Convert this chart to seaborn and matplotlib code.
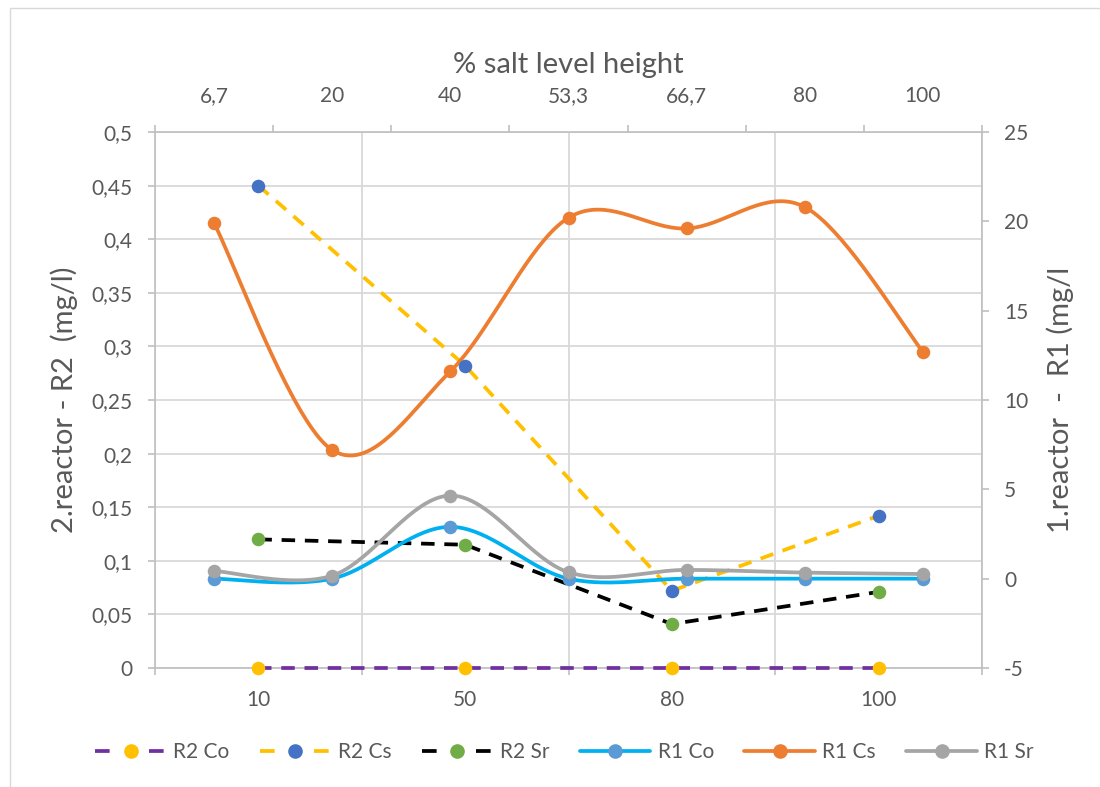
import numpy as np
import matplotlib
matplotlib.use("Agg")
import matplotlib.pyplot as plt
import seaborn as sns
from matplotlib.lines import Line2D
from matplotlib.patches import Rectangle
from matplotlib.ticker import FixedLocator, FixedFormatter

# ---------------- data ----------------
r2_categories = ["10", "50", "80", "100"]
r2_co = [0.0, 0.0, 0.0, 0.0]
r2_cs = [0.45, 0.282, 0.072, 0.142]
r2_sr = [0.12, 0.115, 0.041, 0.071]

r1_categories = ["6,7", "20", "40", "53,3", "66,7", "80", "100"]
r1_co = [0.0, 0.0, 2.9, 0.0, 0.0, 0.0, 0.0]
r1_cs = [19.9, 7.2, 11.6, 20.2, 19.6, 20.8, 12.7]
r1_sr = [0.43, 0.17, 4.65, 0.36, 0.49, 0.34, 0.26]

left_ticks = [0, 0.05, 0.1, 0.15, 0.2, 0.25, 0.3, 0.35, 0.4, 0.45, 0.5]
right_ticks = [-5, 0, 5, 10, 15, 20, 25]

# ---------------- style ----------------
sns.set_theme(style="white")
plt.rcParams["font.family"] = ["Lato", "DejaVu Sans"]
TXT = "#595959"
AXC = "#bfbfbf"
GRID = "#d9d9d9"

LW = 2.7
DASH = (0, (3.6, 2.6))
LEG_DASH = (0, (3.9, 10.5))
MS = 95
TICK_FS = 15
LABEL_FS = 21


def smooth(xs, ys, n=40):
    """Excel-like smoothed line (Catmull-Rom Bezier through the points)."""
    P = np.column_stack([xs, ys]).astype(float)
    m = len(P)
    out = []
    t = np.linspace(0, 1, n)[:, None]
    for i in range(m - 1):
        p0 = P[max(i - 1, 0)]
        p1 = P[i]
        p2 = P[i + 1]
        p3 = P[min(i + 2, m - 1)]
        c1 = p1 + (p2 - p0) / 6
        c2 = p2 - (p3 - p1) / 6
        seg = (1 - t) ** 3 * p1 + 3 * (1 - t) ** 2 * t * c1 + 3 * (1 - t) * t ** 2 * c2 + t ** 3 * p2
        out.append(seg if i == 0 else seg[1:])
    return np.vstack(out)


W, H = 1100, 787
fig = plt.figure(figsize=(11, 7.87), dpi=100)
fig.patch.set_facecolor("white")

# chart-area border
fig.add_artist(Rectangle((10 / W, 1 - 1200 / H), 1200 / W, (1200 - 8) / H,
                         transform=fig.transFigure, fill=False,
                         edgecolor=GRID, linewidth=1.0))

L, R, T, B = 155, 982, 132, 668
rect = [L / W, 1 - B / H, (R - L) / W, (B - T) / H]
ax = fig.add_axes(rect)
ax2 = ax.twinx()
ax3 = ax2.twiny()
ax4 = fig.add_axes(rect, sharex=ax, sharey=ax)  # R2 markers on top
ax4.axis("off")
ax4.patch.set_visible(False)

x2 = np.arange(len(r2_categories))
x1 = np.arange(len(r1_categories))

r2_series = [
    ("R2 Co", r2_co, "#7030A0", "#FFC000"),
    ("R2 Cs", r2_cs, "#FFC000", "#4472C4"),
    ("R2 Sr", r2_sr, "#000000", "#70AD47"),
]
r1_series = [
    ("R1 Co", r1_co, "#00B0F0", "#5B9BD5"),
    ("R1 Cs", r1_cs, "#ED7D31", "#ED7D31"),
    ("R1 Sr", r1_sr, "#A5A5A5", "#A5A5A5"),
]

# R2 lines (primary axes, straight dashed)
for name, vals, lc, mc in r2_series:
    sns.lineplot(x=x2, y=vals, sort=False, estimator=None, color=lc,
                 linewidth=LW, linestyle=DASH, ax=ax, legend=False,
                 zorder=3, clip_on=False)

# R1 smoothed lines + markers (secondary axes)
for name, vals, lc, mc in r1_series:
    s = smooth(x1, vals)
    sns.lineplot(x=s[:, 0], y=s[:, 1], sort=False, estimator=None, color=lc,
                 linewidth=LW, ax=ax3, legend=False, zorder=2)
for name, vals, lc, mc in r1_series:
    sns.scatterplot(x=x1, y=vals, color=mc, s=MS, linewidth=0, ax=ax3,
                    legend=False, zorder=3)

# R2 markers on top
for name, vals, lc, mc in r2_series:
    sns.scatterplot(x=x2, y=vals, color=mc, s=MS, linewidth=0, ax=ax4,
                    legend=False, zorder=3, clip_on=False)

# ---------------- axes ----------------
ax.set_xlim(-0.5, len(r2_categories) - 0.5)
ax.set_ylim(0, 0.5)
ax2.set_ylim(-5, 25)
ax3.set_xlim(-0.5, len(r1_categories) - 0.5)

for a in (ax, ax2, ax3):
    for sp in a.spines.values():
        sp.set_visible(False)
ax.spines["left"].set_visible(True)
ax.spines["left"].set_color(AXC)
ax.spines["bottom"].set_visible(True)
ax.spines["bottom"].set_color(AXC)
ax2.spines["right"].set_visible(True)
ax2.spines["right"].set_color(AXC)
ax3.spines["top"].set_visible(True)
ax3.spines["top"].set_color(AXC)
for a in (ax, ax2, ax3):
    for sp in a.spines.values():
        sp.set_linewidth(1.2)

# bottom x axis
ax.xaxis.set_major_locator(FixedLocator(x2))
ax.xaxis.set_major_formatter(FixedFormatter(r2_categories))
ax.xaxis.set_minor_locator(FixedLocator(np.arange(len(r2_categories) + 1) - 0.5))
ax.tick_params(axis="x", which="major", length=0, pad=16, labelsize=TICK_FS,
               labelcolor=TXT, bottom=True)
ax.tick_params(axis="x", which="minor", length=5, width=1.2, color=AXC,
               direction="out", bottom=True)
# left y axis
ax.yaxis.set_major_locator(FixedLocator(left_ticks))
ax.yaxis.set_major_formatter(FixedFormatter([f"{v:g}".replace(".", ",") for v in left_ticks]))
ax.tick_params(axis="y", which="major", length=5, width=1.2, color=AXC,
               direction="out", pad=11, labelsize=TICK_FS, labelcolor=TXT, left=True)
ax.grid(True, axis="y", which="major", color=GRID, linewidth=1.3)
ax.grid(True, axis="x", which="minor", color=GRID, linewidth=1.3)
ax.grid(False, axis="x", which="major")
ax.set_axisbelow(True)

# right y axis
ax2.yaxis.set_major_locator(FixedLocator(right_ticks))
ax2.yaxis.set_major_formatter(FixedFormatter([str(v) for v in right_ticks]))
ax2.tick_params(axis="y", which="major", length=5, width=1.2, color=AXC,
                direction="out", pad=11, labelsize=TICK_FS, labelcolor=TXT, right=True)
ax2.grid(False)

# top x axis
ax3.xaxis.set_major_locator(FixedLocator(x1))
ax3.xaxis.set_major_formatter(FixedFormatter(r1_categories))
ax3.xaxis.set_minor_locator(FixedLocator(np.arange(len(r1_categories) + 1) - 0.5))
ax3.tick_params(axis="x", which="major", length=0, pad=19, labelsize=TICK_FS,
                labelcolor=TXT, top=True)
ax3.tick_params(axis="x", which="minor", length=5, width=1.2, color=AXC,
                direction="out", top=True)
ax3.grid(False)

# axis titles
ax3.set_xlabel("% salt level height", fontsize=LABEL_FS, color=TXT, labelpad=9)
ax.set_ylabel("2.reactor - R2  (mg/l)", fontsize=LABEL_FS, color=TXT, va="center")
ax.yaxis.set_label_coords((64 - L) / (R - L), 0.5)
ax2.set_ylabel("1.reactor  -  R1 (mg/l", fontsize=LABEL_FS, color=TXT,
               rotation=90, va="center")
ax2.yaxis.set_label_coords((1060 - L) / (R - L), 0.5)

# legend
handles = []
labels = []
for name, vals, lc, mc in r2_series:
    handles.append(Line2D([], [], color=lc, lw=LW, linestyle=LEG_DASH, marker="o",
                          markersize=9.5, markerfacecolor=mc, markeredgecolor=mc))
    labels.append(name)
for name, vals, lc, mc in r1_series:
    handles.append(Line2D([], [], color=lc, lw=LW, marker="o",
                          markersize=9.5, markerfacecolor=mc, markeredgecolor=mc))
    labels.append(name)
leg = fig.legend(handles, labels, loc="center", bbox_to_anchor=(564.5 / W, 1 - 752 / H),
                 ncol=6, frameon=False, fontsize=TICK_FS, handlelength=3.4,
                 handletextpad=0.35, columnspacing=1.45, labelcolor=TXT)

fig.savefig("out.png", dpi=100, facecolor="white")
